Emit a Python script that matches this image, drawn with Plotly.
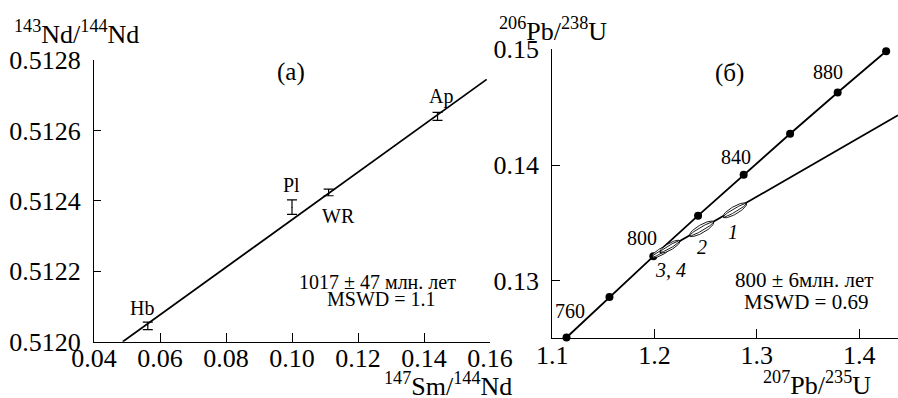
import numpy as np
import plotly.graph_objects as go

# ---------------- data: panel (a) Sm-Nd isochron ----------------
sm_labels = ["Hb", "Pl", "WR", "Ap"]
sm_x = [0.0563, 0.1000, 0.1111, 0.1441]
nd_y = [0.512045, 0.512382, 0.512424, 0.512640]
nd_err = [0.0000105, 0.0000205, 0.0000095, 0.0000115]
iso_x = [0.0487, 0.1590]
iso_y = [0.51200, 0.512745]
a_xticks = [0.04, 0.06, 0.08, 0.10, 0.12, 0.14, 0.16]
a_xticktext = ["0.04", "0.06", "0.08", "0.10", "0.12", "0.14", "0.16"]
a_yticks = [0.5120, 0.5122, 0.5124, 0.5126, 0.5128]
a_yticktext = ["0.5120", "0.5122", "0.5124", "0.5126", "0.5128"]

# ---------------- data: panel (б) U-Pb concordia ----------------
conc_age = [760, 780, 800, 820, 840, 860, 880, 900]
conc_x = [1.1139, 1.1559, 1.1988, 1.2425, 1.2871, 1.3325, 1.3790, 1.4264]
conc_y = [0.12512, 0.12862, 0.13213, 0.13564, 0.13918, 0.14271, 0.14627, 0.14983]
conc_labelled = [760, 800, 840, 880]
disc_x = [1.1988, 1.438]
disc_y = [0.13213, 0.14430]
ell_labels = ["1", "2", "3", "4"]
ell_x = [1.2784, 1.2460, 1.2072, 1.2150]
ell_y = [0.13610, 0.13450, 0.13256, 0.13296]
ell_len = [13.5, 14.0, 11.5, 11.5]   # half-length along discordia (px)
ell_wid = [3.8, 4.0, 3.3, 3.3]       # half-width (px)
b_xticks = [1.1, 1.2, 1.3, 1.4]
b_xticktext = ["1.1", "1.2", "1.3", "1.4"]
b_yticks = [0.13, 0.14, 0.15]
b_yticktext = ["0.13", "0.14", "0.15"]

W, H = 898, 398
FONT = "Liberation Serif"

# layout geometry
a_dom_x = [94 / W, 490 / W]
a_dom_y = [(H - 341.7) / H, (H - 60) / H]
b_dom_x = [552.3 / W, 1.0]
b_dom_y = [(H - 338.3) / H, (H - 49.3) / H]
a_xr = [0.04, 0.16]
a_yr = [0.5120, 0.5128]
b_xr = [1.1, 1.438]
b_yr = [0.12505, 0.15]

fig = go.Figure()

# isochron line
fig.add_trace(go.Scatter(x=iso_x, y=iso_y, mode="lines",
                         line=dict(color="black", width=1.8),
                         xaxis="x", yaxis="y", showlegend=False, hoverinfo="skip"))
# data with error bars
fig.add_trace(go.Scatter(x=sm_x, y=nd_y, mode="markers",
                         marker=dict(size=1, color="black"),
                         error_y=dict(type="data", array=nd_err, visible=True,
                                      color="black", thickness=1.2, width=5),
                         xaxis="x", yaxis="y", showlegend=False))

# concordia
fig.add_trace(go.Scatter(x=conc_x, y=conc_y, mode="lines+markers",
                         line=dict(color="black", width=1.8),
                         marker=dict(size=8, color="black"), cliponaxis=False,
                         xaxis="x2", yaxis="y2", showlegend=False))
# discordia
fig.add_trace(go.Scatter(x=disc_x, y=disc_y, mode="lines",
                         line=dict(color="black", width=1.8),
                         xaxis="x2", yaxis="y2", showlegend=False))

# error ellipses (outer outline filled white + inner outline)
pxx = (b_dom_x[1] - b_dom_x[0]) * W / (b_xr[1] - b_xr[0])
pxy = (b_dom_y[1] - b_dom_y[0]) * H / (b_yr[1] - b_yr[0])
slope_px = (disc_y[1] - disc_y[0]) * pxy / ((disc_x[1] - disc_x[0]) * pxx)
th = np.arctan(slope_px)
t = np.linspace(0, 2 * np.pi, 80)
for cx, cy, a, b in zip(ell_x, ell_y, ell_len, ell_wid):
    for k in (1.0, 0.45):
        bb = b * k
        dxp = a * np.cos(t) * np.cos(th) - bb * np.sin(t) * np.sin(th)
        dyp = a * np.cos(t) * np.sin(th) + bb * np.sin(t) * np.cos(th)
        fig.add_trace(go.Scatter(x=cx + dxp / pxx, y=cy + dyp / pxy, mode="lines",
                                 line=dict(color="black", width=0.9),
                                 fill="toself" if k == 1.0 else None,
                                 fillcolor="white",
                                 xaxis="x2", yaxis="y2", showlegend=False,
                                 hoverinfo="skip"))

axis_common = dict(showline=True, linecolor="black", linewidth=1.3, ticks="inside",
                   tickcolor="black", tickwidth=1.3, showgrid=False, zeroline=False,
                   automargin=False,
                   tickfont=dict(family=FONT, size=26, color="black"), mirror=False)

fig.update_layout(
    width=W, height=H, margin=dict(l=0, r=0, t=0, b=0, autoexpand=False),
    paper_bgcolor="white", plot_bgcolor="white",
    font=dict(family=FONT, color="black"),
    xaxis=dict(domain=a_dom_x, range=a_xr, tickvals=a_xticks, ticktext=a_xticktext,
               anchor="y", ticklen=9, ticklabelstandoff=-7, **axis_common),
    yaxis=dict(domain=a_dom_y, range=a_yr, tickvals=a_yticks, ticktext=a_yticktext,
               anchor="x", ticklen=7, ticklabelstandoff=7, **axis_common),
    xaxis2=dict(domain=b_dom_x, range=b_xr, tickvals=b_xticks, ticktext=b_xticktext,
                anchor="y2", ticklen=9, ticklabelstandoff=-7, **axis_common),
    yaxis2=dict(domain=b_dom_y, range=b_yr, tickvals=b_yticks, ticktext=b_yticktext,
                anchor="x2", ticklen=8, ticklabelstandoff=7, **axis_common),
)

ann = []
def txt(x, y, s, xref, yref, size=20, italic=False, xanchor="center"):
    ann.append(dict(x=x, y=y, xref=xref, yref=yref, text=(f"<i>{s}</i>" if italic else s),
                    showarrow=False, xanchor=xanchor, yanchor="middle",
                    font=dict(family=FONT, size=size, color="black")))

# panel (a) labels
txt(0.0998, 0.512766, "(a)", "x", "y", size=25)
txt(0.1450, 0.512695, "Ap", "x", "y")
txt(0.0998, 0.512445, "Pl", "x", "y")
txt(0.1141, 0.512357, "WR", "x", "y")
txt(0.05448, 0.512096, "Hb", "x", "y")
txt(0.1259, 0.512170, "1017 ± 47 млн. лет", "x", "y")
txt(0.1271, 0.512121, "MSWD = 1.1", "x", "y")

# panel (б) labels
txt(1.2737, 0.14795, "(б)", "x2", "y2", size=25)
for age, lx, ly in zip(conc_labelled, [1.1173, 1.1877, 1.2796, 1.3695],
                       [0.12741, 0.13371, 0.14070, 0.14804]):
    txt(lx, ly, str(age), "x2", "y2")
txt(1.2766, 0.13423, "1", "x2", "y2", italic=True)
txt(1.2463, 0.13293, "2", "x2", "y2", italic=True)
txt(1.2160, 0.13095, "3, 4", "x2", "y2", italic=True)
txt(1.3468, 0.13009, "800 ± 6млн. лет", "x2", "y2", size=21)
txt(1.3478, 0.12819, "MSWD = 0.69", "x2", "y2", size=21)

# axis titles
txt(12 / W, 1 - 33 / H, "<sup>143</sup>Nd/<sup>144</sup>Nd", "paper", "paper", size=26, xanchor="left")
txt(497 / W, 1 - 30 / H, "<sup>206</sup>Pb/<sup>238</sup>U", "paper", "paper", size=26, xanchor="left")
txt(448 / W, 1 - 384 / H, "<sup>147</sup>Sm/<sup>144</sup>Nd", "paper", "paper", size=26)
txt(817 / W, 1 - 383 / H, "<sup>207</sup>Pb/<sup>235</sup>U", "paper", "paper", size=26)

fig.update_layout(annotations=ann)
fig.write_html("out.html", config={"displayModeBar": False},
               post_script="document.body.style.margin='0';document.body.style.overflow='hidden';")
